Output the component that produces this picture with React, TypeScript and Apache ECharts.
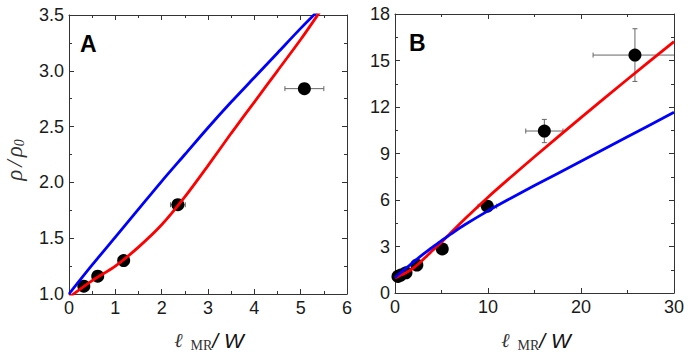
import React, { useEffect, useRef } from 'react';
import * as echarts from 'echarts';

// model curves
const curveX = [0, 0.5, 1, 1.5, 2, 2.5, 3, 3.5, 4, 4.5, 5, 5.5, 6, 7.5, 10, 12.5, 15, 20, 25, 30];
const redY = [0.97, 1.12, 1.25, 1.42, 1.62, 1.87, 2.15, 2.44, 2.72, 3.0, 3.28, 3.58, 3.88, 4.77, 6.18, 7.5, 8.79, 11.31, 13.79, 16.22];
const blueY = [1.0, 1.26, 1.51, 1.76, 2.01, 2.25, 2.49, 2.72, 2.94, 3.16, 3.38, 3.59, 3.8, 4.4, 5.3, 6.13, 6.93, 8.5, 10.08, 11.66];

// measured points
const obsX = [0.32, 0.62, 1.18, 2.35, 5.08, 9.93, 16.06, 25.8];
const obsY = [1.07, 1.16, 1.3, 1.8, 2.84, 5.6, 10.45, 15.35];
const obsXErr = [0.02, 0.03, 0.05, 0.16, 0.42, 1.0, 2.0, 4.5];
const obsYErr = [0, 0, 0, 0.02, 0.03, 0.15, 0.75, 1.7];

// axes
const axisA = { xMin: 0, xMax: 6, xStep: 1, yMin: 1, yMax: 3.5, yStep: 0.5 };
const axisB = { xMin: 0, xMax: 30, xStep: 10, yMin: 0, yMax: 18, yStep: 3 };

const SANS = "'Liberation Sans', Arial, sans-serif";
const SERIF = "'Liberation Serif', 'Times New Roman', serif";
const AXIS_COLOR = '#333';

function makeAxis(kind: 'x' | 'y', gridIndex: number, min: number, max: number, step: number, position: string, labels: boolean, decimals: number) {
  return {
    type: 'value',
    gridIndex,
    position,
    min,
    max,
    interval: step,
    axisLine: { show: true, onZero: false, lineStyle: { color: AXIS_COLOR, width: 1 } },
    axisTick: { show: true, inside: true, length: 5, lineStyle: { color: AXIS_COLOR } },
    minorTick: { show: true, splitNumber: 2, length: 3, lineStyle: { color: AXIS_COLOR } },
    splitLine: { show: false },
    minorSplitLine: { show: false },
    axisLabel: {
      show: labels,
      fontSize: 18,
      fontFamily: SANS,
      color: '#1a1a1a',
      margin: kind === 'x' ? 5 : 5,
      formatter: (v: number) => v.toFixed(decimals),
    },
  };
}

export default function App() {
  const ref = useRef<HTMLDivElement>(null);
  useEffect(() => {
    if (!ref.current) return;
    const chart = echarts.init(ref.current, null, { renderer: 'svg' });
    const pts = obsX.map((x, i) => [x, obsY[i], obsXErr[i], obsYErr[i]]);
    const red = curveX.map((x, i) => [x, redY[i]]);
    const blue = curveX.map((x, i) => [x, blueY[i]]);

    const errorSeries = (gi: number) => ({
      type: 'custom',
      xAxisIndex: gi * 2,
      yAxisIndex: gi * 2,
      clip: true,
      z: 2,
      data: pts,
      renderItem: (_p: any, api: any) => {
        const x = api.value(0), y = api.value(1), ex = api.value(2), ey = api.value(3);
        const l = api.coord([x - ex, y]);
        const r = api.coord([x + ex, y]);
        const t = api.coord([x, y + ey]);
        const b = api.coord([x, y - ey]);
        const st = { stroke: '#666', lineWidth: 1, fill: 'none' };
        const cap = 2.5;
        const children: any[] = [];
        if (r[0] - l[0] > 12) {
          children.push({ type: 'line', shape: { x1: l[0], y1: l[1], x2: r[0], y2: r[1] }, style: st });
          children.push({ type: 'line', shape: { x1: l[0], y1: l[1] - cap, x2: l[0], y2: l[1] + cap }, style: st });
          children.push({ type: 'line', shape: { x1: r[0], y1: r[1] - cap, x2: r[0], y2: r[1] + cap }, style: st });
        }
        if (b[1] - t[1] > 12) {
          children.push({ type: 'line', shape: { x1: t[0], y1: t[1], x2: b[0], y2: b[1] }, style: st });
          children.push({ type: 'line', shape: { x1: t[0] - cap, y1: t[1], x2: t[0] + cap, y2: t[1] }, style: st });
          children.push({ type: 'line', shape: { x1: b[0] - cap, y1: b[1], x2: b[0] + cap, y2: b[1] }, style: st });
        }
        return { type: 'group', children };
      },
    });

    const scatterSeries = (gi: number) => ({
      type: 'scatter',
      xAxisIndex: gi * 2,
      yAxisIndex: gi * 2,
      data: pts.map((p) => [p[0], p[1]]),
      symbol: 'circle',
      symbolSize: 13,
      itemStyle: { color: '#000', opacity: 1 },
      z: 3,
    });

    const lineSeries = (gi: number, data: number[][], color: string) => ({
      type: 'line',
      xAxisIndex: gi * 2,
      yAxisIndex: gi * 2,
      data,
      showSymbol: false,
      symbol: 'none',
      smooth: 0.3,
      clip: true,
      lineStyle: { color, width: 2.8 },
      z: 4,
    });

    chart.setOption({
      animation: false,
      grid: [
        { left: 69, right: 346, top: 15, bottom: 65 },
        { left: 395, right: 19, top: 14, bottom: 66 },
      ],
      xAxis: [
        makeAxis('x', 0, axisA.xMin, axisA.xMax, axisA.xStep, 'bottom', true, 0),
        makeAxis('x', 0, axisA.xMin, axisA.xMax, axisA.xStep, 'top', false, 0),
        makeAxis('x', 1, axisB.xMin, axisB.xMax, axisB.xStep, 'bottom', true, 0),
        makeAxis('x', 1, axisB.xMin, axisB.xMax, axisB.xStep, 'top', false, 0),
      ],
      yAxis: [
        makeAxis('y', 0, axisA.yMin, axisA.yMax, axisA.yStep, 'left', true, 1),
        makeAxis('y', 0, axisA.yMin, axisA.yMax, axisA.yStep, 'right', false, 1),
        makeAxis('y', 1, axisB.yMin, axisB.yMax, axisB.yStep, 'left', true, 0),
        makeAxis('y', 1, axisB.yMin, axisB.yMax, axisB.yStep, 'right', false, 0),
      ],
      series: [
        errorSeries(0),
        scatterSeries(0),
        lineSeries(0, red, '#ff0000'),
        lineSeries(0, blue, '#0000ff'),
        errorSeries(1),
        scatterSeries(1),
        lineSeries(1, red, '#ff0000'),
        lineSeries(1, blue, '#0000ff'),
      ],
      graphic: [
        { type: 'text', x: 80, y: 44, style: { text: 'A', fontSize: 23, fontWeight: 'bold', fontFamily: SANS, fill: '#000', verticalAlign: 'middle' } },
        { type: 'text', x: 409, y: 43, style: { text: 'B', fontSize: 23, fontWeight: 'bold', fontFamily: SANS, fill: '#000', verticalAlign: 'middle' } },
        {
          type: 'text', x: 14, y: 160, rotation: Math.PI / 2,
          style: {
            text: '{a|ρ}{s|/}{a|ρ}{b|0}', align: 'center', verticalAlign: 'middle',
            rich: {
              a: { fontSize: 23, fontStyle: 'italic', fontFamily: SERIF, fill: '#333', lineHeight: 24 },
              s: { fontSize: 23, fontStyle: 'italic', fontFamily: SERIF, fill: '#333', lineHeight: 24, padding: [0, 3, 0, 3] },
              b: { fontSize: 14, fontStyle: 'italic', fontFamily: SERIF, fill: '#333', lineHeight: 14, verticalAlign: 'bottom' },
            },
          },
        },
        ...[209, 536].map((cx) => ({
          type: 'text', x: cx, y: 340,
          style: {
            text: '{l|ℓ}{m|MR}{w|/ W}', align: 'center', verticalAlign: 'middle',
            rich: {
              l: { fontSize: 20, fontStyle: 'italic', fontFamily: SERIF, fill: '#333', lineHeight: 24, padding: [0, 8, 0, 0] },
              m: { fontSize: 14, fontFamily: SERIF, fill: '#333', lineHeight: 14, verticalAlign: 'bottom' },
              w: { fontSize: 21, fontStyle: 'italic', fontFamily: SANS, fill: '#111', lineHeight: 24 },
            },
          },
        })),
      ],
    });
    return () => chart.dispose();
  }, []);
  return <div ref={ref} style={{ position: 'fixed', left: 0, top: 0, width: 693, height: 359, background: '#fff' }} />;
}
